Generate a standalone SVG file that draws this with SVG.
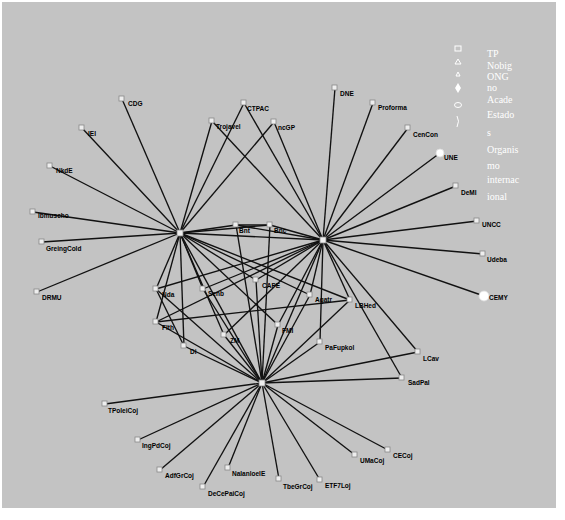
<svg xmlns="http://www.w3.org/2000/svg" width="565" height="520" viewBox="0 0 565 520">
<style>
.e{stroke:#111;stroke-width:1.35;fill:none}
.m{fill:#eee;stroke:#888;stroke-width:0.8}
.w{fill:#fff;stroke:#ddd;stroke-width:0.8}
.t{font-family:"Liberation Sans",Arial,sans-serif;font-size:6.5px;font-weight:bold;fill:#000}
.lg{font-family:"Liberation Serif","Times New Roman",serif;font-size:10px;fill:#fff}
.li{fill:none;stroke:#fff;stroke-width:1}
</style>
<rect width="565" height="520" fill="#ffffff"/>
<rect x="2" y="2" width="554" height="506" fill="#c3c3c3"/>
<g id="connectors">
<line class="e" x1="180" y1="233" x2="122" y2="99"/>
<line class="e" x1="180" y1="233" x2="82" y2="128"/>
<line class="e" x1="180" y1="233" x2="50" y2="166"/>
<line class="e" x1="180" y1="233" x2="33" y2="212"/>
<line class="e" x1="180" y1="233" x2="42" y2="242"/>
<line class="e" x1="180" y1="233" x2="37" y2="292"/>
<line class="e" x1="180" y1="233" x2="212" y2="121"/>
<line class="e" x1="180" y1="233" x2="244" y2="103"/>
<line class="e" x1="180" y1="233" x2="274" y2="122"/>
<line class="e" x1="180" y1="233" x2="323" y2="240"/>
<line class="e" x1="180" y1="233" x2="262" y2="383"/>
<line class="e" x1="180" y1="233" x2="236" y2="225"/>
<line class="e" x1="180" y1="233" x2="270" y2="225"/>
<line class="e" x1="180" y1="233" x2="156" y2="289"/>
<line class="e" x1="180" y1="233" x2="203" y2="289"/>
<line class="e" x1="180" y1="233" x2="256" y2="280"/>
<line class="e" x1="180" y1="233" x2="156" y2="322"/>
<line class="e" x1="180" y1="233" x2="184" y2="346"/>
<line class="e" x1="180" y1="233" x2="224" y2="335"/>
<line class="e" x1="180" y1="233" x2="278" y2="325"/>
<line class="e" x1="180" y1="233" x2="310" y2="295"/>
<line class="e" x1="180" y1="233" x2="350" y2="300"/>
<line class="e" x1="323" y1="240" x2="335" y2="88"/>
<line class="e" x1="323" y1="240" x2="373" y2="103"/>
<line class="e" x1="323" y1="240" x2="408" y2="128"/>
<line class="e" x1="323" y1="240" x2="440" y2="153"/>
<line class="e" x1="323" y1="240" x2="456" y2="186"/>
<line class="e" x1="323" y1="240" x2="477" y2="221"/>
<line class="e" x1="323" y1="240" x2="483" y2="254"/>
<line class="e" x1="323" y1="240" x2="484" y2="296"/>
<line class="e" x1="323" y1="240" x2="212" y2="121"/>
<line class="e" x1="323" y1="240" x2="244" y2="103"/>
<line class="e" x1="323" y1="240" x2="274" y2="122"/>
<line class="e" x1="323" y1="240" x2="418" y2="352"/>
<line class="e" x1="323" y1="240" x2="402" y2="378"/>
<line class="e" x1="323" y1="240" x2="236" y2="225"/>
<line class="e" x1="323" y1="240" x2="270" y2="225"/>
<line class="e" x1="323" y1="240" x2="156" y2="289"/>
<line class="e" x1="323" y1="240" x2="203" y2="289"/>
<line class="e" x1="323" y1="240" x2="256" y2="280"/>
<line class="e" x1="323" y1="240" x2="156" y2="322"/>
<line class="e" x1="323" y1="240" x2="224" y2="335"/>
<line class="e" x1="323" y1="240" x2="278" y2="325"/>
<line class="e" x1="323" y1="240" x2="310" y2="295"/>
<line class="e" x1="323" y1="240" x2="350" y2="300"/>
<line class="e" x1="323" y1="240" x2="320" y2="342"/>
<line class="e" x1="323" y1="240" x2="262" y2="383"/>
<line class="e" x1="262" y1="383" x2="105" y2="404"/>
<line class="e" x1="262" y1="383" x2="138" y2="440"/>
<line class="e" x1="262" y1="383" x2="160" y2="470"/>
<line class="e" x1="262" y1="383" x2="203" y2="487"/>
<line class="e" x1="262" y1="383" x2="228" y2="468"/>
<line class="e" x1="262" y1="383" x2="279" y2="479"/>
<line class="e" x1="262" y1="383" x2="320" y2="480"/>
<line class="e" x1="262" y1="383" x2="355" y2="455"/>
<line class="e" x1="262" y1="383" x2="388" y2="450"/>
<line class="e" x1="262" y1="383" x2="418" y2="352"/>
<line class="e" x1="262" y1="383" x2="402" y2="378"/>
<line class="e" x1="262" y1="383" x2="236" y2="225"/>
<line class="e" x1="262" y1="383" x2="270" y2="225"/>
<line class="e" x1="262" y1="383" x2="156" y2="289"/>
<line class="e" x1="262" y1="383" x2="203" y2="289"/>
<line class="e" x1="262" y1="383" x2="256" y2="280"/>
<line class="e" x1="262" y1="383" x2="156" y2="322"/>
<line class="e" x1="262" y1="383" x2="184" y2="346"/>
<line class="e" x1="262" y1="383" x2="224" y2="335"/>
<line class="e" x1="262" y1="383" x2="278" y2="325"/>
<line class="e" x1="262" y1="383" x2="310" y2="295"/>
<line class="e" x1="262" y1="383" x2="350" y2="300"/>
<line class="e" x1="262" y1="383" x2="320" y2="342"/>
<line class="e" x1="156" y1="322" x2="350" y2="300"/>
<line class="e" x1="156" y1="289" x2="184" y2="346"/>
<line class="e" x1="236" y1="225" x2="270" y2="225"/>
</g>
<g id="n-L"><rect class="m" x="177" y="230" width="6" height="6"/></g>
<g id="n-R"><rect class="m" x="320" y="237" width="6" height="6"/></g>
<g id="n-B"><rect class="m" x="259" y="380" width="6" height="6"/></g>
<g id="n-CDG"><rect class="m" x="119" y="96" width="5" height="5"/><text class="t" x="128" y="106">CDG</text></g>
<g id="n-IEI"><rect class="m" x="79" y="125" width="5" height="5"/><text class="t" x="88" y="136">IEI</text></g>
<g id="n-NkdE"><rect class="m" x="47" y="163" width="5" height="5"/><text class="t" x="56" y="173">NkdE</text></g>
<g id="n-Ibmuscho"><rect class="m" x="30" y="209" width="5" height="5"/><text class="t" x="38" y="218">Ibmuscho</text></g>
<g id="n-GreingCold"><rect class="m" x="39" y="239" width="5" height="5"/><text class="t" x="46" y="251">GreingCold</text></g>
<g id="n-DRMU"><rect class="m" x="34" y="289" width="5" height="5"/><text class="t" x="42" y="300">DRMU</text></g>
<g id="n-Trojavel"><rect class="m" x="209" y="118" width="5" height="5"/><text class="t" x="216" y="129">Trojavel</text></g>
<g id="n-CTPAC"><rect class="m" x="241" y="100" width="5" height="5"/><text class="t" x="247" y="111">CTPAC</text></g>
<g id="n-ncGP"><rect class="m" x="271" y="119" width="5" height="5"/><text class="t" x="278" y="130">ncGP</text></g>
<g id="n-DNE"><rect class="m" x="332" y="85" width="5" height="5"/><text class="t" x="340" y="96">DNE</text></g>
<g id="n-Proforma"><rect class="m" x="370" y="100" width="5" height="5"/><text class="t" x="378" y="110">Proforma</text></g>
<g id="n-CenCon"><rect class="m" x="405" y="125" width="5" height="5"/><text class="t" x="413" y="137">CenCon</text></g>
<g id="n-UNE"><circle class="w" cx="440" cy="153" r="4"/><text class="t" x="444" y="160">UNE</text></g>
<g id="n-DeMI"><rect class="m" x="453" y="183" width="5" height="5"/><text class="t" x="461" y="195">DeMI</text></g>
<g id="n-UNCC"><rect class="m" x="474" y="218" width="5" height="5"/><text class="t" x="482" y="227">UNCC</text></g>
<g id="n-Udeba"><rect class="m" x="480" y="251" width="5" height="5"/><text class="t" x="487" y="262">Udeba</text></g>
<g id="n-CEMY"><circle class="w" cx="484" cy="296" r="5"/><text class="t" x="489" y="300">CEMY</text></g>
<g id="n-LCav"><rect class="m" x="415" y="349" width="5" height="5"/><text class="t" x="423" y="361">LCav</text></g>
<g id="n-SadPal"><rect class="m" x="399" y="375" width="5" height="5"/><text class="t" x="408" y="385">SadPal</text></g>
<g id="n-TPoleiCoj"><rect class="m" x="102" y="401" width="5" height="5"/><text class="t" x="108" y="413">TPoleiCoj</text></g>
<g id="n-IngPdCoj"><rect class="m" x="135" y="437" width="5" height="5"/><text class="t" x="142" y="448">IngPdCoj</text></g>
<g id="n-AdfGrCoj"><rect class="m" x="157" y="467" width="5" height="5"/><text class="t" x="165" y="478">AdfGrCoj</text></g>
<g id="n-DeCePaiCoj"><rect class="m" x="200" y="484" width="5" height="5"/><text class="t" x="208" y="496">DeCePaiCoj</text></g>
<g id="n-NalanloelE"><rect class="m" x="225" y="465" width="5" height="5"/><text class="t" x="232" y="476">NalanloelE</text></g>
<g id="n-TbeGrCoj"><rect class="m" x="276" y="476" width="5" height="5"/><text class="t" x="283" y="489">TbeGrCoj</text></g>
<g id="n-ETF7Loj"><rect class="m" x="317" y="477" width="5" height="5"/><text class="t" x="325" y="488">ETF7Loj</text></g>
<g id="n-UMaCoj"><rect class="m" x="352" y="452" width="5" height="5"/><text class="t" x="360" y="463">UMaCoj</text></g>
<g id="n-CECoj"><rect class="m" x="385" y="447" width="5" height="5"/><text class="t" x="393" y="458">CECoj</text></g>
<g id="n-T1"><rect class="m" x="233" y="222" width="5" height="5"/><text class="t" x="239" y="233">Bnt</text></g>
<g id="n-T2"><rect class="m" x="267" y="222" width="5" height="5"/><text class="t" x="274" y="233">Bnc</text></g>
<g id="n-Nda"><rect class="m" x="153" y="286" width="5" height="5"/><text class="t" x="162" y="297">Nda</text></g>
<g id="n-Senb"><rect class="m" x="200" y="286" width="5" height="5"/><text class="t" x="208" y="296">Senb</text></g>
<g id="n-CAPE"><rect class="m" x="253" y="277" width="5" height="5"/><text class="t" x="262" y="288">CAPE</text></g>
<g id="n-FIth"><rect class="m" x="153" y="319" width="5" height="5"/><text class="t" x="162" y="330">FIth</text></g>
<g id="n-Di"><rect class="m" x="181" y="343" width="5" height="5"/><text class="t" x="190" y="354">Di</text></g>
<g id="n-ZM"><rect class="m" x="221" y="332" width="5" height="5"/><text class="t" x="230" y="343">ZM</text></g>
<g id="n-FMI"><rect class="m" x="275" y="322" width="5" height="5"/><text class="t" x="282" y="333">FMI</text></g>
<g id="n-Agatr"><rect class="m" x="307" y="292" width="5" height="5"/><text class="t" x="315" y="302">Agatr</text></g>
<g id="n-LBHed"><rect class="m" x="347" y="297" width="5" height="5"/><text class="t" x="355" y="308">LBHed</text></g>
<g id="n-PaFupkol"><rect class="m" x="317" y="339" width="5" height="5"/><text class="t" x="325" y="350">PaFupkol</text></g>
<g id="legend">
<rect class="li" x="455" y="46" width="6" height="5"/>
<path class="li" d="M455 64 L458 59 L461 64 Z"/>
<path class="li" d="M456 76 L458 72 L460 76 Z"/>
<path d="M458 83 L461 88 L458 93 L455 88 Z" fill="#fff"/>
<ellipse class="li" cx="458" cy="105" rx="3.5" ry="2.5"/>
<path class="li" d="M457 116 Q460 121 457 127"/>
<text class="lg" x="487" y="57">TP</text>
<text class="lg" x="487" y="69">Nobig</text>
<text class="lg" x="487" y="80">ONG</text>
<text class="lg" x="487" y="91">no</text>
<text class="lg" x="487" y="103">Acade</text>
<text class="lg" x="487" y="118">Estado</text>
<text class="lg" x="487" y="136">s</text>
<text class="lg" x="487" y="153">Organis</text>
<text class="lg" x="487" y="169">mo</text>
<text class="lg" x="487" y="183">internac</text>
<text class="lg" x="487" y="200">ional</text>
</g>
</svg>
